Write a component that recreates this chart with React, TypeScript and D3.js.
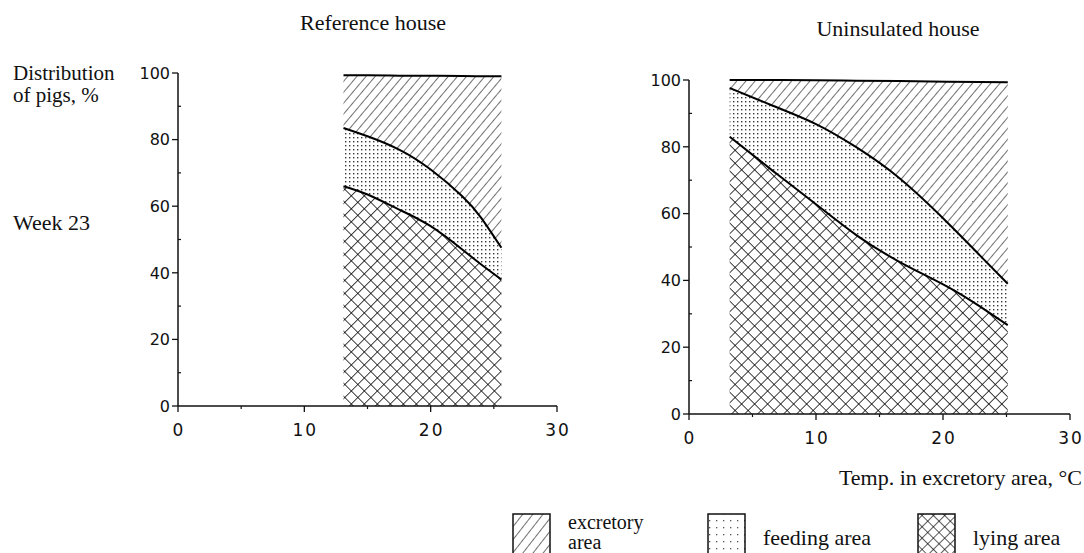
import React from 'react';
import * as d3 from 'd3';

// Reference house, week 23: temperature in excretory area (°C) and cumulative boundaries (%)
const refTemps = [13.1, 15, 17.5, 20, 22.5, 24, 25.6];
const refLyingTop = [66, 63.5, 59, 54, 47, 42.5, 38];
const refFeedingTop = [83.5, 81, 77, 71, 63, 56.5, 47.5];
const refTotal = [99.3, 99.3, 99.2, 99.2, 99.1, 99, 99];

// Uninsulated house
const uninsTemps = [3.2, 6.6, 10, 13.2, 16.6, 20.3, 22.9, 25.1];
const uninsLyingTop = [83, 72.8, 62.8, 53.5, 45.5, 38.2, 32.2, 26.6];
const uninsFeedingTop = [97.6, 92.3, 86.8, 79.8, 70.5, 57.5, 47.5, 39];
const uninsTotal = [100, 100, 99.9, 99.8, 99.7, 99.5, 99.4, 99.3];

const yMajor = [0, 20, 40, 60, 80, 100];
const yMinor = [10, 30, 50, 70, 90];
const xMajor = [0, 10, 20, 30];
const xMinor = [5, 15, 25];

const legendItems = [
  { key: 'excretory', lines: ['excretory', 'area'], pattern: 'lg-diag' },
  { key: 'feeding', lines: ['feeding area'], pattern: 'lg-dots' },
  { key: 'lying', lines: ['lying area'], pattern: 'lg-cross' },
];

const serif = '"Liberation Serif", "Times New Roman", serif';
const sans = '"DejaVu Sans", Arial, sans-serif';

interface PanelProps {
  temps: number[];
  lying: number[];
  feeding: number[];
  total: number[];
  xRange: [number, number];
  yRange: [number, number];
}

const Panel: React.FC<PanelProps> = ({ temps, lying, feeding, total, xRange, yRange }) => {
  const x = d3.scaleLinear().domain([0, 30]).range(xRange);
  const y = d3.scaleLinear().domain([0, 100]).range(yRange);
  const rows = temps.map((t, i) => ({ t, lying: lying[i], feeding: feeding[i], total: total[i] }));
  type Row = (typeof rows)[number];

  const curve = d3.curveNatural;
  const area = (lo: (d: Row) => number, hi: (d: Row) => number) =>
    d3.area<Row>().x(d => x(d.t)).y0(d => y(lo(d))).y1(d => y(hi(d))).curve(curve)(rows) || '';
  const line = (f: (d: Row) => number) =>
    d3.line<Row>().x(d => x(d.t)).y(d => y(f(d))).curve(curve)(rows) || '';

  const x0 = x(0), y0 = y(0);

  return (
    <g>
      <path d={area(() => 0, d => d.lying)} fill="url(#p-cross)" />
      <path d={area(d => d.lying, d => d.feeding)} fill="url(#p-dots)" />
      <path d={area(d => d.feeding, d => d.total)} fill="url(#p-diag)" />
      <path d={line(d => d.lying)} fill="none" stroke="#000" strokeWidth={2} />
      <path d={line(d => d.feeding)} fill="none" stroke="#000" strokeWidth={2} />
      <path d={line(d => d.total)} fill="none" stroke="#000" strokeWidth={2} />

      {/* axes */}
      <line x1={x0} x2={x0} y1={y(0)} y2={y(100)} stroke="#111" strokeWidth={1.5} />
      <line x1={x0} x2={x(30)} y1={y0} y2={y0} stroke="#111" strokeWidth={1.5} />
      {yMajor.map(v => (
        <g key={'ym' + v}>
          <line x1={x0 - 6} x2={x0} y1={y(v)} y2={y(v)} stroke="#111" strokeWidth={1.3} />
          <text x={x0 - 8} y={y(v)} dy="0.36em" textAnchor="end" fontFamily={sans} fontSize={16} fill="#111">
            {v}
          </text>
        </g>
      ))}
      {yMinor.map(v => (
        <line key={'yn' + v} x1={x0} x2={x0 + 3} y1={y(v)} y2={y(v)} stroke="#111" strokeWidth={1.2} />
      ))}
      {xMajor.map(v => (
        <g key={'xm' + v}>
          <line x1={x(v)} x2={x(v)} y1={y0} y2={y0 + 6} stroke="#111" strokeWidth={1.3} />
          <text x={x(v)} dx={1} y={y0 + 30} textAnchor="middle" fontFamily={sans} fontSize={17} letterSpacing={2} fill="#111">
            {v}
          </text>
        </g>
      ))}
      {xMinor.map(v => (
        <line key={'xn' + v} x1={x(v)} x2={x(v)} y1={y0} y2={y0 + 3} stroke="#111" strokeWidth={1.2} />
      ))}
    </g>
  );
};

export default function App() {
  const legendBoxes = [513, 708, 918];
  return (
    <svg
      width={1084}
      height={553}
      style={{ position: 'absolute', left: 0, top: 0, background: '#fff' }}
    >
      <defs>
        <pattern id="p-diag" width={7} height={7} patternUnits="userSpaceOnUse" patternTransform="rotate(40)">
          <rect width={7} height={7} fill="#fff" />
          <line x1={0} y1={-1} x2={0} y2={8} stroke="#111" strokeWidth={1.2} />
        </pattern>
        <pattern id="p-dots" width={4} height={4} patternUnits="userSpaceOnUse">
          <rect width={4} height={4} fill="#fff" />
          <rect x={1} y={1} width={1.4} height={1.4} fill="#3a3a3a" />
        </pattern>
        <pattern id="p-cross" width={9.2} height={9.2} patternUnits="userSpaceOnUse" patternTransform="rotate(45)">
          <rect width={9.2} height={9.2} fill="#fff" />
          <line x1={0} y1={0} x2={0} y2={9.2} stroke="#000" strokeWidth={1.5} />
          <line x1={0} y1={0} x2={9.2} y2={0} stroke="#000" strokeWidth={1.5} />
        </pattern>
        <pattern id="lg-diag" width={8} height={8} patternUnits="userSpaceOnUse" patternTransform="rotate(38)">
          <rect width={8} height={8} fill="#fff" />
          <line x1={0} y1={-1} x2={0} y2={9} stroke="#111" strokeWidth={1.2} />
        </pattern>
        <pattern id="lg-dots" width={7} height={7} patternUnits="userSpaceOnUse">
          <rect width={7} height={7} fill="#fff" />
          <rect x={2} y={2} width={1.3} height={1.3} fill="#555" />
        </pattern>
        <pattern id="lg-cross" width={8} height={8} patternUnits="userSpaceOnUse" patternTransform="rotate(45)">
          <rect width={8} height={8} fill="#fff" />
          <line x1={0} y1={0} x2={0} y2={8} stroke="#000" strokeWidth={1.3} />
          <line x1={0} y1={0} x2={8} y2={0} stroke="#000" strokeWidth={1.3} />
        </pattern>
      </defs>

      <text x={373} y={30} textAnchor="middle" fontFamily={serif} fontSize={22} fill="#111">Reference house</text>
      <text x={898} y={36} textAnchor="middle" fontFamily={serif} fontSize={22} fill="#111">Uninsulated house</text>

      <text x={13} y={80} fontFamily={serif} fontSize={21} fill="#111">Distribution</text>
      <text x={13} y={102} fontFamily={serif} fontSize={21} fill="#111">of pigs, %</text>
      <text x={13} y={230} fontFamily={serif} fontSize={22} fill="#111">Week 23</text>

      <Panel
        temps={refTemps}
        lying={refLyingTop}
        feeding={refFeedingTop}
        total={refTotal}
        xRange={[178, 557]}
        yRange={[406, 73]}
      />
      <Panel
        temps={uninsTemps}
        lying={uninsLyingTop}
        feeding={uninsFeedingTop}
        total={uninsTotal}
        xRange={[689, 1070]}
        yRange={[414, 80]}
      />

      <text x={1082} y={485} textAnchor="end" fontFamily={serif} fontSize={22} fill="#111">
        Temp. in excretory area, °C
      </text>

      {legendItems.map((item, i) => (
        <g key={item.key}>
          <rect x={legendBoxes[i]} y={514} width={37} height={42} fill={`url(#${item.pattern})`} stroke="#111" strokeWidth={1.5} />
          {item.lines.map((l, j) => (
            <text
              key={l}
              x={legendBoxes[i] + 55}
              y={item.lines.length > 1 ? 529 + j * 20 : 545}
              fontFamily={serif}
              fontSize={item.lines.length > 1 ? 20 : 22}
              fill="#111"
            >
              {l}
            </text>
          ))}
        </g>
      ))}
    </svg>
  );
}
